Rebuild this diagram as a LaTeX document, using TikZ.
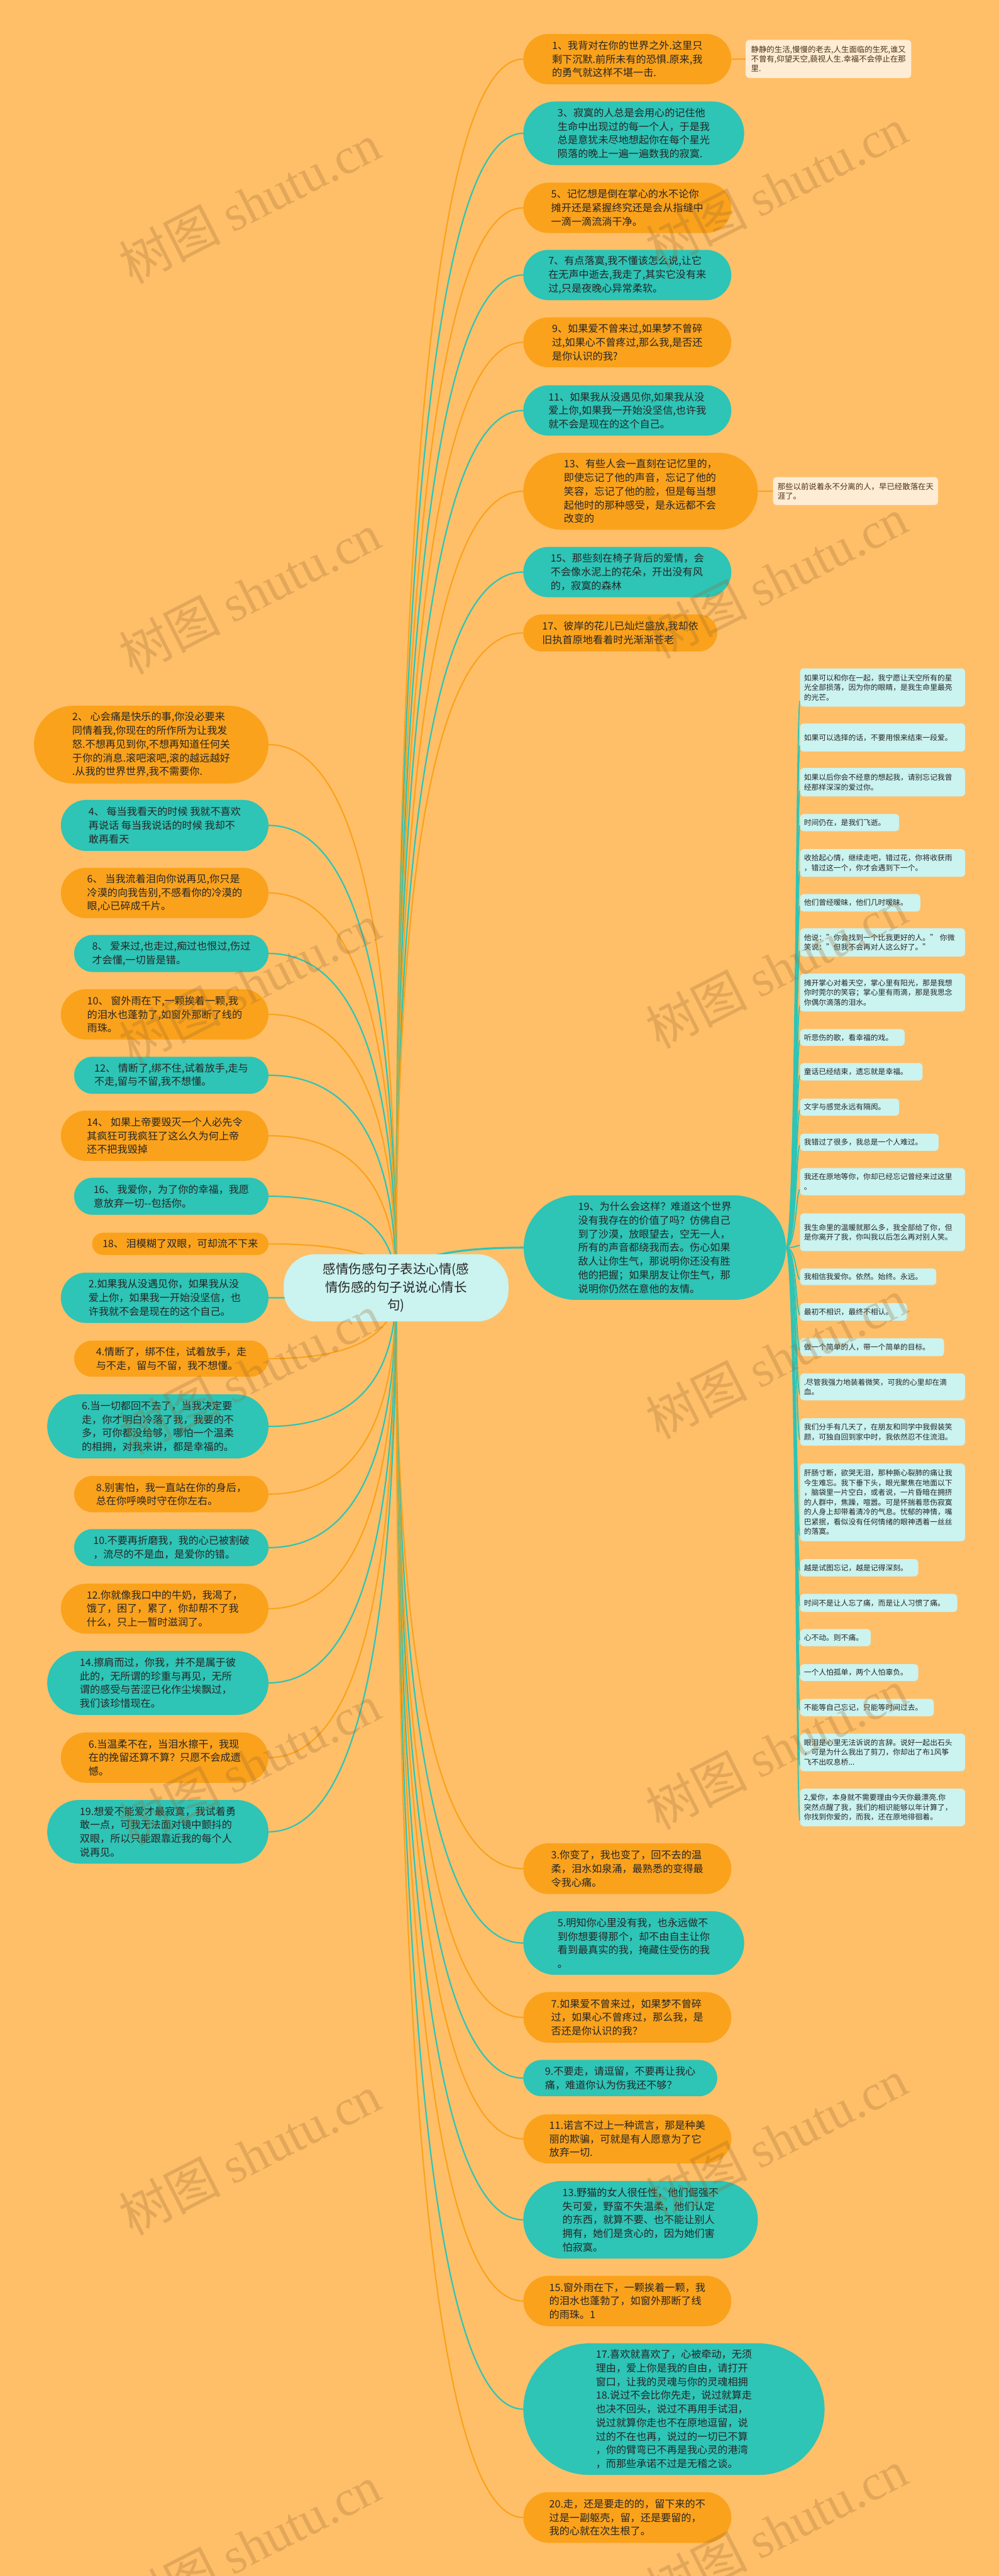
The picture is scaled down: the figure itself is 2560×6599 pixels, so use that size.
\documentclass[tikz,border=0pt]{standalone}
\usepackage{fontspec}
\setmainfont{Noto Sans CJK SC}
\newfontfamily\wmlat{Liberation Serif}
\usetikzlibrary{shapes.misc,calc}
\pgfdeclarelayer{bgA}\pgfdeclarelayer{bgB}\pgfsetlayers{bgA,bgB,main}
\definecolor{cBg}{HTML}{FFBF69}
\definecolor{cOr}{HTML}{FBA21C}
\definecolor{cTe}{HTML}{2EC4B6}
\definecolor{cLi}{HTML}{CBF3F0}
\definecolor{cNote}{HTML}{FFECD4}
\definecolor{cTx}{HTML}{262626}
\definecolor{cNoteTx}{HTML}{4A3218}
\definecolor{cWm}{HTML}{9A6A30}
\newcommand\nfont{\fontsize{26}{35}\selectfont}
\newcommand\sfont{\fontsize{20}{24.5}\selectfont}
\newcommand\ifont{\fontsize{19}{25}\selectfont}
\newcommand\cfont{\fontsize{33}{46}\selectfont}
\newcommand\wmf{\fontsize{130}{130}\selectfont}
\tikzset{
 basetext/.style={inner sep=0pt, align=left, text=cTx, font=\nfont},
 onode/.style={basetext, rounded rectangle, fill=cOr},
 tnode/.style={basetext, rounded rectangle, fill=cTe},
 notebox/.style={rectangle, rounded corners=9pt, fill=cNote, text=cNoteTx, font=\sfont, align=left, inner sep=0pt},
 itembox/.style={rectangle, rounded corners=10pt, fill=cLi, text=cTx, font=\ifont, align=left, anchor=north west, inner xsep=10pt, inner ysep=0pt},
 oline/.style={draw=cOr, line width=3.5pt},
 tline/.style={draw=cTe, line width=3.5pt},
 wmark/.style={text=cWm, opacity=0.28, rotate=27, font=\wmf, inner sep=0pt},
}
\newcommand\linkR[2]{\coordinate (kk) at (c.center |- #2.west);
 \draw[#1] (c.center) .. controls ($(c.center)!0.667!(kk)$) and ($(#2.west)!0.667!(kk)$) .. (#2.west);}
\newcommand\linkL[2]{\coordinate (kk) at (c.center |- #2.east);
 \draw[#1] (c.center) .. controls ($(c.center)!0.667!(kk)$) and ($(#2.east)!0.667!(kk)$) .. (#2.east);}
\newcommand\linkI[1]{\draw[tline, line width=3pt] (n19.east) .. controls ($(n19.east)+(26,0)$) and ($(#1.south west)+(-10,-15)$) .. ($(#1.south west)+(0,-15)$);}
\newcommand\litem[5]{\node[itembox, text width=#2pt, minimum height=#3pt] (#1) at (2050,#4) {#5};}
\begin{document}
\begin{tikzpicture}[x=1pt,y=-1pt]
\begin{pgfonlayer}{bgA}
\fill[cBg] (0,0) rectangle (2560,6599);
\end{pgfonlayer}
\useasboundingbox (0,0) rectangle (2560,6599);

% centre
\node[rectangle, rounded corners=80pt, fill=cLi, minimum width=576pt, minimum height=172pt, inner sep=0pt, align=center, font=\cfont, text=cTx] (c) at (1015,3299) {感情伤感句子表达心情(感\\情伤感的句子说说心情长\\句)};

% right upper
\node[onode, minimum width=533pt, minimum height=129pt] (n1) at (1607.5,151.5) {1、我背对在你的世界之外.这里只\\剩下沉默.前所未有的恐惧.原来,我\\的勇气就这样不堪一击.};
\node[tnode, minimum width=566pt, minimum height=163pt] (n3) at (1624,341.5) {3、寂寞的人总是会用心的记住他\\生命中出现过的每一个人，于是我\\总是意犹未尽地想起你在每个星光\\陨落的晚上一遍一遍数我的寂寞.};
\node[onode, minimum width=533pt, minimum height=129pt] (n5) at (1607.5,532.5) {5、记忆想是倒在掌心的水不论你\\摊开还是紧握终究还是会从指缝中\\一滴一滴流淌干净。};
\node[tnode, minimum width=533pt, minimum height=129pt] (n7) at (1607.5,704.5) {7、有点落寞,我不懂该怎么说,让它\\在无声中逝去,我走了,其实它没有来\\过,只是夜晚心异常柔软。};
\node[onode, minimum width=533pt, minimum height=128pt] (n9) at (1607.5,877) {9、如果爱不曾来过,如果梦不曾碎\\过,如果心不曾疼过,那么我,是否还\\是你认识的我?};
\node[tnode, minimum width=533pt, minimum height=129pt] (n11) at (1607.5,1051.5) {11、如果我从没遇见你,如果我从没\\爱上你,如果我一开始没坚信,也许我\\就不会是现在的这个自己。};
\node[onode, minimum width=601pt, minimum height=197pt] (n13) at (1641.5,1258.5) {13、有些人会一直刻在记忆里的，\\即使忘记了他的声音，忘记了他的\\笑容，忘记了他的脸，但是每当想\\起他时的那种感受，是永远都不会\\改变的};
\node[tnode, minimum width=533pt, minimum height=129pt] (n15) at (1607.5,1465.5) {15、那些刻在椅子背后的爱情，会\\不会像水泥上的花朵，开出没有风\\的，寂寞的森林};
\node[onode, minimum width=497pt, minimum height=95pt] (n17) at (1589.5,1621.5) {17、彼岸的花儿已灿烂盛放,我却依\\旧执首原地看着时光渐渐苍老};

% notes
\node[notebox, minimum width=424pt, minimum height=98pt] (note1) at (2123,151) {静静的生活,慢慢的老去,人生面临的生死,谁又\\不曾有,仰望天空,藐视人生.幸福不会停止在那\\里.};
\node[notebox, minimum width=423pt, minimum height=72pt] (note2) at (2192.5,1258) {那些以前说着永不分离的人，早已经散落在天\\涯了。};

% left
\node[onode, minimum width=601pt, minimum height=199pt] (L2) at (387.5,1907.5) {2、 心会痛是快乐的事,你没必要来\\同情着我,你现在的所作所为让我发\\怒.不想再见到你,不想再知道任何关\\于你的消息.滚吧滚吧,滚的越远越好\\.从我的世界世界,我不需要你.};
\node[tnode, minimum width=532pt, minimum height=131pt] (L4) at (422,2114.5) {4、 每当我看天的时候 我就不喜欢\\再说话 每当我说话的时候 我却不\\敢再看天};
\node[onode, minimum width=532pt, minimum height=129pt] (L6) at (422,2287.5) {6、 当我流着泪向你说再见,你只是\\冷漠的向我告别,不感看你的冷漠的\\眼,心已碎成千片。};
\node[tnode, minimum width=498pt, minimum height=95pt] (L8) at (439,2442.5) {8、 爱来过,也走过,痴过也恨过,伤过\\才会懂,一切皆是错。};
\node[onode, minimum width=532pt, minimum height=129pt] (L10) at (422,2598.5) {10、 窗外雨在下,一颗挨着一颗,我\\的泪水也蓬勃了,如窗外那断了线的\\雨珠。};
\node[tnode, minimum width=498pt, minimum height=95pt] (L12) at (439,2754.5) {12、 情断了,绑不住,试着放手,走与\\不走,留与不留,我不想懂。};
\node[onode, minimum width=532pt, minimum height=129pt] (L14) at (422,2909.5) {14、 如果上帝要毁灭一个人必先令\\其疯狂可我疯狂了这么久为何上帝\\还不把我毁掉};
\node[tnode, minimum width=498pt, minimum height=95pt] (L16) at (439,3064.5) {16、 我爱你，为了你的幸福，我愿\\意放弃一切-{}-包括你。};
\node[onode, minimum width=452pt, minimum height=57pt] (L18) at (462,3186.5) {18、 泪模糊了双眼，可却流不下来};
\node[tnode, minimum width=532pt, minimum height=129pt] (L2b) at (422,3324.5) {2.如果我从没遇见你，如果我从没\\爱上你，如果我一开始没坚信，也\\许我就不会是现在的这个自己。};
\node[onode, minimum width=498pt, minimum height=93pt] (L4b) at (439,3480.5) {4.情断了，绑不住，试着放手，走\\与不走，留与不留，我不想懂。};
\node[tnode, minimum width=567pt, minimum height=164pt] (L6b) at (404.5,3654) {6.当一切都回不去了，当我决定要\\走，你才明白冷落了我，我要的不\\多，可你都没给够，哪怕一个温柔\\的相拥，对我来讲，都是幸福的。};
\node[onode, minimum width=498pt, minimum height=93pt] (L8b) at (439,3827.5) {8.别害怕，我一直站在你的身后，\\总在你呼唤时守在你左右。};
\node[tnode, minimum width=498pt, minimum height=95pt] (L10b) at (439,3964.5) {10.不要再折磨我，我的心已被割破\\，流尽的不是血，是爱你的错。};
\node[onode, minimum width=532pt, minimum height=128pt] (L12b) at (422,4121) {12.你就像我口中的牛奶，我渴了，\\饿了，困了，累了，你却帮不了我\\什么，只上一暂时滋润了。};
\node[tnode, minimum width=567pt, minimum height=164pt] (L14b) at (404.5,4311) {14.擦肩而过，你我，并不是属于彼\\此的，无所谓的珍重与再见，无所\\谓的感受与苦涩已化作尘埃飘过，\\我们该珍惜现在。};
\node[onode, minimum width=532pt, minimum height=129pt] (L6c) at (422,4502.5) {6.当温柔不在，当泪水擦干，我现\\在的挽留还算不算？只愿不会成遗\\憾。};
\node[tnode, minimum width=567pt, minimum height=163pt] (L19) at (404.5,4692.5) {19.想爱不能爱才最寂寞，我试着勇\\敢一点，可我无法面对镜中颤抖的\\双眼，所以只能跟靠近我的每个人\\说再见。};

% node 19
\node[tnode, minimum width=672pt, minimum height=268pt] (n19) at (1678,3196) {19、为什么会这样？难道这个世界\\没有我存在的价值了吗？仿佛自己\\到了沙漠，放眼望去，空无一人，\\所有的声音都绕我而去。伤心如果\\敌人让你生气，那说明你还没有胜\\他的把握；如果朋友让你生气，那\\说明你仍然在意他的友情。};

% list of node 19
\litem{i1}{403}{98}{1712}{如果可以和你在一起，我宁愿让天空所有的星\\光全部损落，因为你的眼睛，是我生命里最亮\\的光芒。}
\litem{i2}{403}{72}{1853}{如果可以选择的话，不要用恨来结束一段爱。}
\litem{i3}{403}{73}{1967}{如果以后你会不经意的想起我，请别忘记我曾\\经那样深深的爱过你。}
\litem{i4}{234}{44}{2085}{时间仍在，是我们飞逝。}
\litem{i5}{403}{71}{2175}{收拾起心情，继续走吧，错过花，你将收获雨\\，错过这一个，你才会遇到下一个。}
\litem{i6}{288}{45}{2290}{他们曾经暧昧，他们几时暧昧。}
\litem{i7}{403}{72}{2378}{他说："你会找到一个比我更好的人。" 你微\\笑说："但我不会再对人这么好了。"}
\litem{i8}{403}{97}{2494}{摊开掌心对着天空，掌心里有阳光，那是我想\\你时莞尔的笑容；掌心里有雨滴，那是我思念\\你偶尔滴落的泪水。}
\litem{i9}{248}{43}{2636}{听悲伤的歌，看幸福的戏。}
\litem{i10}{294}{45}{2723}{童话已经结束，遗忘就是幸福。}
\litem{i11}{234}{44}{2814}{文字与感觉永远有隔阂。}
\litem{i12}{335}{44}{2904}{我错过了很多，我总是一个人难过。}
\litem{i13}{403}{70}{2992}{我还在原地等你，你却已经忘记曾经来过这里\\。}
\litem{i14}{403}{97}{3108}{我生命里的温暖就那么多，我全部给了你，但\\是你离开了我，你叫我以后怎么再对别人笑。}
\litem{i15}{329}{43}{3249}{我相信我爱你。依然。始终。永远。}
\litem{i16}{254}{45}{3338}{最初不相识，最终不相认。}
\litem{i17}{349}{46}{3428}{做一个简单的人，带一个简单的目标。}
\litem{i18}{403}{69}{3518}{.尽管我强力地装着微笑，可我的心里却在滴\\血。}
\litem{i19}{403}{70}{3633}{我们分手有几天了，在朋友和同学中我假装笑\\颜，可独自回到家中时，我依然忍不住流泪。}
\litem{i20}{403}{199}{3749}{肝肠寸断，欲哭无泪，那种撕心裂肺的痛让我\\今生难忘。我下垂下头，眼光聚焦在地面以下\\，脑袋里一片空白，或者说，一片昏暗在拥挤\\的人群中，焦躁，喧嚣。可是怀揣着悲伤寂寞\\的人身上却带着清冷的气息。忧郁的神情，嘴\\巴紧抿，看似没有任何情绪的眼神透着一丝丝\\的落寞。}
\litem{i21}{283}{44}{3994}{越是试图忘记，越是记得深刻。}
\litem{i22}{383}{46}{4083}{时间不是让人忘了痛，而是让人习惯了痛。}
\litem{i23}{161}{44}{4173}{心不动。则不痛。}
\litem{i24}{283}{43}{4263}{一个人怕孤单，两个人怕辜负。}
\litem{i25}{323}{44}{4352}{不能等自己忘记，只能等时间过去。}
\litem{i26}{403}{96}{4441}{眼泪是心里无法诉说的言辞。说好一起出石头\\，可是为什么我出了剪刀，你却出了布1风筝\\飞不出叹息桥...}
\litem{i27}{403}{96}{4582}{2,爱你，本身就不需要理由今天你最漂亮.你\\突然点醒了我，我们的相识能够以年计算了，\\你找到你爱的，而我，还在原地徘徊着。}

% right lower
\node[onode, minimum width=533pt, minimum height=130pt] (b3) at (1607.5,4787) {3.你变了，我也变了，回不去的温\\柔，泪水如泉涌，最熟悉的变得最\\令我心痛。};
\node[tnode, minimum width=566pt, minimum height=163pt] (b5) at (1624,4977.5) {5.明知你心里没有我，也永远做不\\到你想要得那个，却不由自主让你\\看到最真实的我，掩藏住受伤的我\\。};
\node[onode, minimum width=533pt, minimum height=130pt] (b7) at (1607.5,5168) {7.如果爱不曾来过，如果梦不曾碎\\过，如果心不曾疼过，那么我，是\\否还是你认识的我？};
\node[tnode, minimum width=497pt, minimum height=93pt] (b9) at (1589.5,5323.5) {9.不要走，请逗留，不要再让我心\\痛，难道你认为伤我还不够？};
\node[onode, minimum width=533pt, minimum height=126pt] (b11) at (1607.5,5479) {11.诺言不过上一种谎言，那是种美\\丽的欺骗，可就是有人愿意为了它\\放弃一切.};
\node[tnode, minimum width=601pt, minimum height=199pt] (b13) at (1641.5,5686.5) {13.野猫的女人很任性，他们倔强不\\失可爱，野蛮不失温柔，他们认定\\的东西，就算不要、也不能让别人\\拥有，她们是贪心的，因为她们害\\怕寂寞。};
\node[onode, minimum width=533pt, minimum height=129pt] (b15) at (1607.5,5894.5) {15.窗外雨在下，一颗挨着一颗，我\\的泪水也蓬勃了，如窗外那断了线\\的雨珠。1};
\node[tnode, minimum width=772pt, minimum height=337pt] (b17) at (1727,6171.5) {17.喜欢就喜欢了，心被牵动，无须\\理由，爱上你是我的自由，请打开\\窗口，让我的灵魂与你的灵魂相拥\\18.说过不会比你先走，说过就算走\\也决不回头，说过不再用手试泪，\\说过就算你走也不在原地逗留，说\\过的不在也再，说过的一切已不算\\，你的臂弯已不再是我心灵的港湾\\，而那些承诺不过是无稽之谈。};
\node[onode, minimum width=533pt, minimum height=130pt] (b20) at (1607.5,6449) {20.走，还是要走的的，留下来的不\\过是一副躯壳，留，还是要留的，\\我的心就在次生根了。};

% connectors
\begin{pgfonlayer}{bgB}
\linkR{oline}{n1}\linkR{tline}{n3}\linkR{oline}{n5}\linkR{tline}{n7}\linkR{oline}{n9}
\linkR{tline}{n11}\linkR{oline}{n13}\linkR{tline}{n15}\linkR{oline}{n17}
\linkR{tline, line width=5pt}{n19}
\linkR{oline}{b3}\linkR{tline}{b5}\linkR{oline}{b7}\linkR{tline}{b9}\linkR{oline}{b11}
\linkR{tline}{b13}\linkR{oline}{b15}\linkR{tline}{b17}\linkR{oline}{b20}
\linkL{oline}{L2}\linkL{tline}{L4}\linkL{oline}{L6}\linkL{tline}{L8}\linkL{oline}{L10}
\linkL{tline}{L12}\linkL{oline}{L14}\linkL{tline}{L16}\linkL{oline}{L18}\linkL{tline}{L2b}
\linkL{oline}{L4b}\linkL{tline}{L6b}\linkL{oline}{L8b}\linkL{tline}{L10b}\linkL{oline}{L12b}
\linkL{tline}{L14b}\linkL{oline}{L6c}\linkL{tline}{L19}
\draw[oline] (n1.east) -- (note1.west);
\draw[oline] (n13.east) -- (note2.west);
\foreach \k in {1,...,27} {\linkI{i\k}}
\end{pgfonlayer}

% watermarks
\foreach \yy in {520,1520,2520,3520,4520,5520,6520} {
 \node[wmark] (wmL\yy) at (640,\yy) {树图 {\wmlat shutu.cn}};
 \node[wmark] (wmR\yy) at (1990,\yy-40) {树图 {\wmlat shutu.cn}};
}
\end{tikzpicture}
\end{document}
